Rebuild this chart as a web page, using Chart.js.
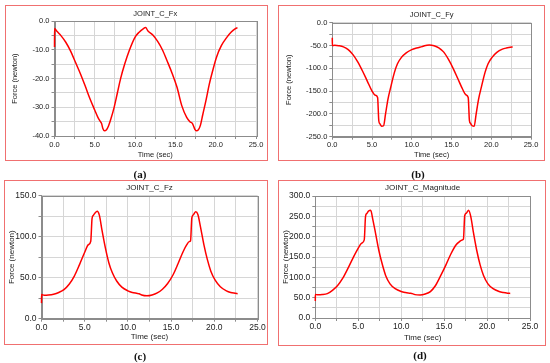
<!DOCTYPE html>
<html>
<head>
<meta charset="utf-8">
<script src="https://cdn.jsdelivr.net/npm/chart.js@4/dist/chart.umd.min.js"></script>
<style>
  html, body { margin: 0; padding: 0; background: #fff; }
  body { width: 550px; height: 363px; position: relative; overflow: hidden; font-family: "Liberation Sans", Arial, sans-serif; }
  .wrap { position: absolute; }
  .frame { position: absolute; box-sizing: border-box; border: 1.5px solid #f07070; pointer-events: none; }
  .cap { position: absolute; font-family: "Liberation Serif", "Times New Roman", serif; font-weight: bold; font-size: 11px; color: #111; transform: translate(-50%, -50%); white-space: nowrap; }
</style>
</head>
<body>
<div class="wrap" id="wa" style="left:5px;top:5px;width:263px;height:156px"><canvas id="ca"></canvas></div>
<div class="wrap" id="wb" style="left:278px;top:5px;width:267px;height:156px"><canvas id="cb"></canvas></div>
<div class="wrap" id="wc" style="left:3.5px;top:180px;width:264px;height:165px"><canvas id="cc"></canvas></div>
<div class="wrap" id="wd" style="left:278px;top:180px;width:268px;height:166px"><canvas id="cd"></canvas></div>
<div class="frame" style="left:5px;top:5px;width:263px;height:156px"></div>
<div class="frame" style="left:278px;top:5px;width:267px;height:156px"></div>
<div class="frame" style="left:3.5px;top:180px;width:264px;height:165px"></div>
<div class="frame" style="left:278px;top:180px;width:268px;height:166px"></div>
<div class="cap" style="left:140px;top:174px">(a)</div>
<div class="cap" style="left:418px;top:174px">(b)</div>
<div class="cap" style="left:140px;top:356px">(c)</div>
<div class="cap" style="left:420px;top:355px">(d)</div>
<script>
// Time samples (sec), shared by all four traces
const times = [0, 0.01, 0.3, 0.8, 1.4, 2.0, 2.6, 3.2, 3.8, 4.4, 5.0, 5.4, 5.7, 5.85, 6.0, 6.2, 6.45, 6.7, 7.0, 7.4,
  7.8, 8.2, 8.7, 9.3, 10.0, 10.5, 11.0, 11.3, 11.6, 12.2, 12.8, 13.4, 14.0, 14.6, 15.2, 15.8, 16.4, 16.8, 17.1, 17.25,
  17.4, 17.6, 17.85, 18.1, 18.4, 18.8, 19.2, 19.6, 20.1, 20.7, 21.4, 21.9, 22.4, 22.7];

// JOINT_C_Fx (newton)
const fx = [-9, -2.5, -3.5, -5.0, -7.3, -10.4, -14.3, -18.2, -22.5, -27.0, -31.0, -33.6, -35.0, -35.7, -37.4, -38.2, -37.8, -36.5, -34.0, -30.0,
  -25.0, -20.0, -15.0, -10.0, -5.5, -3.8, -2.6, -2.2, -3.4, -4.8, -7.0, -10.0, -14.0, -18.2, -23.0, -29.5, -33.5, -35.0, -35.6, -36.5,
  -37.6, -38.2, -37.8, -36.3, -32.5, -27.5, -22.0, -17.5, -12.5, -8.5, -5.5, -3.8, -2.6, -2.2];

// JOINT_C_Fy (newton)
const fy = [-33, -50, -49.5, -50.5, -53, -59, -70, -86, -106, -128, -150, -159, -164, -215, -222, -227, -226, -200, -168, -138,
  -110, -90, -76, -66, -59, -56, -54, -52.5, -50.5, -49, -50.5, -55, -64, -80, -100, -123, -146, -158, -164, -214,
  -221, -226, -227, -200, -168, -138, -110, -90, -76, -65, -58, -55.5, -54, -53];

// JOINT_C_Fz (newton)
const fz = [19, 29.5, 28.5, 28.8, 29.8, 32, 35.5, 42, 52, 66, 81, 90, 94.5, 122, 126, 129, 131, 126, 108, 86,
  68, 56, 46, 38.5, 34, 32, 31, 30.5, 29, 28, 29, 31.5, 36, 43, 53, 67, 82, 90, 94, 95,
  123, 127, 130.5, 127, 112, 90, 72, 58, 47, 39, 34, 32, 31, 30.5];

// JOINT_C_Magnitude (newton)
const mag = [42, 58, 57, 57.5, 60, 68, 80, 98, 122, 148, 172, 184, 192, 250, 257, 263, 265, 242, 210, 166,
  132, 104, 84, 72, 65, 62.5, 61, 60, 57.5, 56.5, 59, 65, 80, 104, 130, 158, 180, 188, 192, 194,
  252, 258, 265, 250, 212, 166, 130, 104, 84, 72, 65, 62.5, 61, 60.5];

const panelTitles = ['JOINT_C_Fx', 'JOINT_C_Fy', 'JOINT_C_Fz', 'JOINT_C_Magnitude'];
const xTitle = 'Time (sec)';
const yTitle = 'Force (newton)';
const xMin = 0, xMax = 25, xStep = 2.5, xLabelEvery = 5;
const yRanges = [[-40, 0, 5, 10], [-250, 0, 25, 50], [0, 150, 25, 50], [0, 300, 25, 50]];

const FONT = '"Liberation Sans", Arial, sans-serif';

const framePlugin = {
  id: 'plotFrame',
  beforeDatasetsDraw(chart) {
    const { ctx, chartArea: a } = chart;
    ctx.save();
    ctx.strokeStyle = '#8c8c8c';
    ctx.lineWidth = 1;
    ctx.strokeRect(Math.round(a.left) + 0.5, Math.round(a.top) + 0.5, Math.round(a.right - a.left), Math.round(a.bottom - a.top));
    ctx.restore();
  }
};

function isMult(v, m) {
  const r = Math.abs(v / m - Math.round(v / m));
  return r < 1e-6;
}

function makeChart(id, series, idx, L) {
  const [ymin, ymax, ystep, yevery] = yRanges[idx];
  const fs = L.fs;
  return new Chart(document.getElementById(id), {
    type: 'line',
    data: {
      datasets: [{
        data: times.map((t, i) => ({ x: t, y: series[i] })),
        borderColor: '#ff0000',
        borderWidth: 1.5,
        pointRadius: 0,
        cubicInterpolationMode: 'monotone',
        fill: false,
        clip: 6
      }]
    },
    options: {
      responsive: true,
      maintainAspectRatio: false,
      animation: false,
      layout: { padding: { left: 0, top: 0, right: L.R, bottom: 0 } },
      plugins: {
        legend: { display: false },
        tooltip: { enabled: false },
        title: {
          display: true,
          text: panelTitles[idx],
          fullSize: false,
          color: '#222',
          font: { family: FONT, size: L.tf, weight: 'normal', lineHeight: 1 },
          padding: { top: L.tt, bottom: L.T - L.tf - L.tt }
        }
      },
      scales: {
        x: {
          type: 'linear',
          min: xMin, max: xMax,
          afterFit: s => { s.height = L.B; },
          ticks: {
            stepSize: xStep, autoSkip: false, maxRotation: 0, minRotation: 0,
            color: '#222', font: { family: FONT, size: fs }, padding: 1,
            callback: v => isMult(v, xLabelEvery) ? v.toFixed(1) : ''
          },
          grid: { color: '#d6d6d6', lineWidth: 1, tickLength: 3, tickColor: '#8c8c8c' },
          border: { color: '#8c8c8c' },
          title: { display: true, text: xTitle, color: '#222', font: { family: FONT, size: L.tf }, padding: { top: 0, bottom: L.xb } }
        },
        y: {
          type: 'linear',
          min: ymin, max: ymax,
          afterFit: s => { s.width = L.L; },
          ticks: {
            stepSize: ystep, autoSkip: false,
            color: '#222', font: { family: FONT, size: fs }, padding: 2,
            callback: v => isMult(v, yevery) ? v.toFixed(1) : ''
          },
          grid: { color: '#d6d6d6', lineWidth: 1, tickLength: 3, tickColor: '#8c8c8c' },
          border: { color: '#8c8c8c' },
          title: { display: true, text: yTitle, color: '#222', font: { family: FONT, size: L.tf }, padding: { top: L.yt, bottom: 0 } }
        }
      }
    },
    plugins: [framePlugin]
  });
}

makeChart('ca', fx, 0, { L: 49.5, T: 16.3, R: 12, B: 25, fs: 7.5, tf: 7.5, tt: 5.25, xb: 1.5, yt: 5.5 });
makeChart('cb', fy, 1, { L: 54.3, T: 17.7, R: 14, B: 24.3, fs: 7.5, tf: 7.5, tt: 6.25, xb: 1.5, yt: 6.5 });
makeChart('cc', fz, 2, { L: 37.5, T: 15.7, R: 10.5, B: 26.3, fs: 8.5, tf: 8, tt: 3.7, xb: 3.2, yt: 3.2 });
makeChart('cd', mag, 3, { L: 37.3, T: 16, R: 16, B: 28, fs: 8.5, tf: 8, tt: 3.7, xb: 3.2, yt: 3.2 });
</script>
</body>
</html>
